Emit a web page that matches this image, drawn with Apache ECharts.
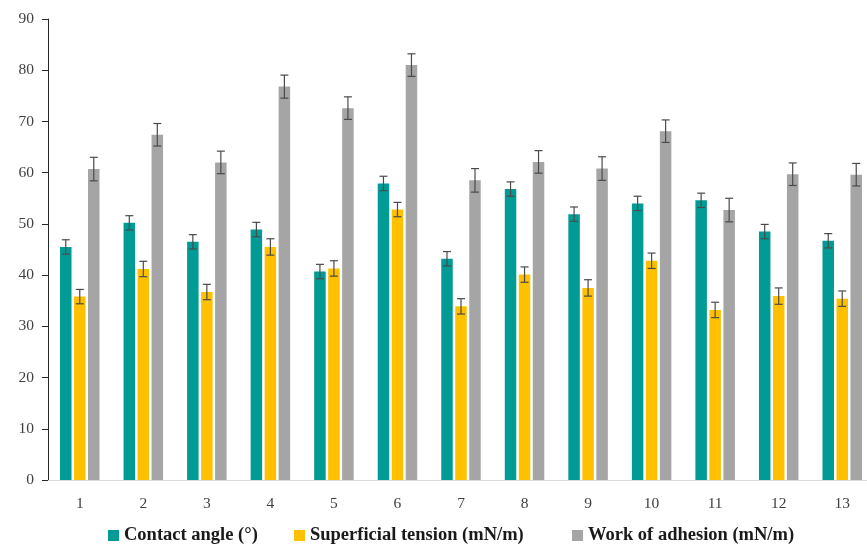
<!DOCTYPE html>
<html>
<head>
<meta charset="utf-8">
<script src="https://cdn.jsdelivr.net/npm/echarts@6/dist/echarts.min.js"></script>
<style>
  html, body { margin: 0; padding: 0; background: #fff; }
  #chart { width: 867px; height: 548px; }
</style>
</head>
<body>
<div id="chart"></div>
<script>
// Sample numbers along the x axis
const samples = ['1', '2', '3', '4', '5', '6', '7', '8', '9', '10', '11', '12', '13'];

// Contact angle (°) with its standard deviation
const contactAngle    = [45.5, 50.2, 46.5, 48.9, 40.7, 57.9, 43.2, 56.8, 51.9, 54.0, 54.6, 48.5, 46.7];
const contactAngleErr = [1.4, 1.4, 1.4, 1.4, 1.4, 1.4, 1.4, 1.4, 1.4, 1.4, 1.4, 1.4, 1.4];

// Superficial tension (mN/m) with its standard deviation
const surfTension     = [35.8, 41.2, 36.7, 45.5, 41.3, 52.8, 33.9, 40.1, 37.5, 42.8, 33.2, 35.9, 35.4];
const surfTensionErr  = [1.4, 1.5, 1.5, 1.6, 1.5, 1.4, 1.5, 1.5, 1.6, 1.5, 1.5, 1.6, 1.5];

// Work of adhesion (mN/m) with its standard deviation
const workAdhesion    = [60.7, 67.4, 62.0, 76.8, 72.6, 81.0, 58.5, 62.1, 60.8, 68.1, 52.7, 59.7, 59.6];
const workAdhesionErr = [2.3, 2.2, 2.2, 2.25, 2.2, 2.2, 2.3, 2.2, 2.3, 2.2, 2.3, 2.2, 2.2];

// Value axis ticks
const yMin = 0, yMax = 90, yStep = 10;

const seriesDefs = [
  { name: 'Contact angle (°)',          values: contactAngle, errors: contactAngleErr, color: '#009b95', legendLeft: 103 },
  { name: 'Superficial tension (mN/m)', values: surfTension,  errors: surfTensionErr,  color: '#ffc000', legendLeft: 289 },
  { name: 'Work of adhesion (mN/m)',    values: workAdhesion, errors: workAdhesionErr, color: '#a5a5a5', legendLeft: 567 }
];

const BAR_W = 11.5;
const BAR_GAP = 2.5;
const CAP_HALF = 4;
const serif = '"Liberation Serif", "DejaVu Serif", serif';

function errorSeries(def, k) {
  const n = seriesDefs.length;
  const shift = (k - (n - 1) / 2) * (BAR_W + BAR_GAP);
  return {
    type: 'custom',
    name: def.name + ' error',
    z: 10,
    silent: true,
    data: def.values.map((v, i) => [i, v - def.errors[i], v + def.errors[i]]),
    renderItem: function (params, api) {
      const lo = api.coord([api.value(0), api.value(1)]);
      const hi = api.coord([api.value(0), api.value(2)]);
      const x = lo[0] + shift;
      const style = { stroke: '#4a4a4a', lineWidth: 1.2 };
      return {
        type: 'group',
        children: [
          { type: 'line', shape: { x1: x, y1: lo[1], x2: x, y2: hi[1] }, style: style },
          { type: 'line', shape: { x1: x - CAP_HALF, y1: hi[1], x2: x + CAP_HALF, y2: hi[1] }, style: style },
          { type: 'line', shape: { x1: x - CAP_HALF, y1: lo[1], x2: x + CAP_HALF, y2: lo[1] }, style: style }
        ]
      };
    }
  };
}

const chart = echarts.init(document.getElementById('chart'), null, { renderer: 'canvas' });

chart.setOption({
  animation: false,
  backgroundColor: '#fff',
  grid: { left: 48, right: -7, top: 19, bottom: 68, containLabel: false, outerBoundsMode: 'none' },
  // one legend per series so each entry sits at its own spot
  legend: seriesDefs.map(d => ({
    data: [d.name],
    left: d.legendLeft,
    top: 521,
    itemWidth: 11,
    itemHeight: 11,
    icon: 'rect',
    textStyle: { fontFamily: serif, fontWeight: 'bold', fontSize: 18.5, color: '#1a1a1a' }
  })),
  xAxis: {
    type: 'category',
    data: samples,
    axisLine: { lineStyle: { color: '#d9d9d9', width: 1 } },
    axisTick: { show: false },
    axisLabel: { fontFamily: serif, fontSize: 15.5, color: '#404040', margin: 16 }
  },
  yAxis: {
    type: 'value',
    min: yMin,
    max: yMax,
    interval: yStep,
    splitLine: { show: false },
    axisLine: { show: true, lineStyle: { color: '#262626', width: 1 } },
    axisTick: { show: true, length: 6, lineStyle: { color: '#262626' } },
    axisLabel: { fontFamily: serif, fontSize: 15.5, color: '#404040', margin: 14 }
  },
  series: seriesDefs.map(d => ({
    type: 'bar',
    name: d.name,
    data: d.values,
    barWidth: BAR_W,
    barGap: (BAR_GAP / BAR_W * 100).toFixed(1) + '%',
    itemStyle: { color: d.color }
  })).concat(seriesDefs.map(errorSeries))
});
</script>
</body>
</html>
